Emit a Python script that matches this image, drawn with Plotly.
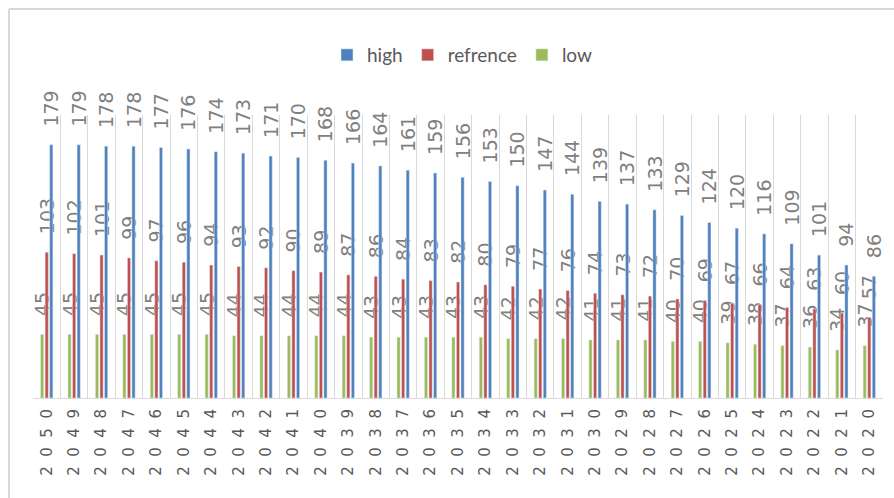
import plotly.graph_objects as go

years = [str(y) for y in range(2050, 2019, -1)]
high = [179, 179, 178, 178, 177, 176, 174, 173, 171, 170,
        168, 166, 164, 161, 159, 156, 153, 150, 147, 144,
        139, 137, 133, 129, 124, 120, 116, 109, 101, 94, 86]
refrence = [103, 102, 101, 99, 97, 96, 94, 93, 92, 90,
            89, 87, 86, 84, 83, 82, 80, 79, 77, 76,
            74, 73, 72, 70, 69, 67, 66, 64, 63, 60, 57]
low = [45, 45, 45, 45, 45, 45, 45, 44, 44, 44,
       44, 44, 43, 43, 43, 43, 43, 42, 42, 42,
       41, 41, 41, 40, 40, 39, 38, 37, 36, 34, 37]

tick_text = ["\u00a0\u00a0".join(list(y)) for y in years]

GRAY_TXT = "#808080"
LABEL_FONT = dict(family="DejaVu Sans", size=19, color=GRAY_TXT)
pad = "\u00a0\u00a0\u00a0"

fig = go.Figure()
for name, vals, col in [("low", low, "#9bbb59"),
                        ("refrence", refrence, "#c0504d"),
                        ("high", high, "#4f81bd")]:
    fig.add_trace(go.Bar(
        x=years, y=vals, name=name, marker_color=col,
        text=[pad + str(v) for v in vals],
        textposition="outside", textangle=-90,
        textfont=LABEL_FONT, constraintext="none",
        cliponaxis=False,
    ))

W, H = 894, 498
ml, mr, mt, mb = 33, 11, 115, 100
pw, ph = W - ml - mr, H - mt - mb

def px_x(x):
    return (x - ml) / pw

def px_y(y):
    return 1 + (mt - y) / ph

fig.update_layout(
    width=W, height=H,
    margin=dict(l=ml, r=mr, t=mt, b=mb, pad=0),
    paper_bgcolor="white", plot_bgcolor="white",
    barmode="group", bargap=0.5, bargroupgap=0.3,
    showlegend=True,
    legend=dict(orientation="h", x=px_x(462), xanchor="center",
                y=px_y(55), yanchor="middle",
                traceorder="reversed", itemwidth=30,
                font=dict(family="Lato, Liberation Sans, sans-serif",
                          size=19, color="#595959")),
    xaxis=dict(type="category", tickvals=years, ticktext=tick_text,
               tickangle=-90, tickson="boundaries", showgrid=True,
               gridcolor="#d9d9d9", gridwidth=1, showline=True,
               linecolor="#d9d9d9", linewidth=1, ticks="",
               tickfont=dict(family="DejaVu Sans", size=15, color="#595959"),
               ticklabelstandoff=4),
    yaxis=dict(range=[0, 200], visible=False, showgrid=False),
    shapes=[
        dict(type="line", xref="paper", yref="paper",
             x0=px_x(9), x1=px_x(W + 5), y0=px_y(9), y1=px_y(9),
             line=dict(color="#d9d9d9", width=2)),
        dict(type="line", xref="paper", yref="paper",
             x0=px_x(9), x1=px_x(9), y0=px_y(9), y1=px_y(H + 5),
             line=dict(color="#d9d9d9", width=2)),
    ],
)

fig.write_html("out.html")
